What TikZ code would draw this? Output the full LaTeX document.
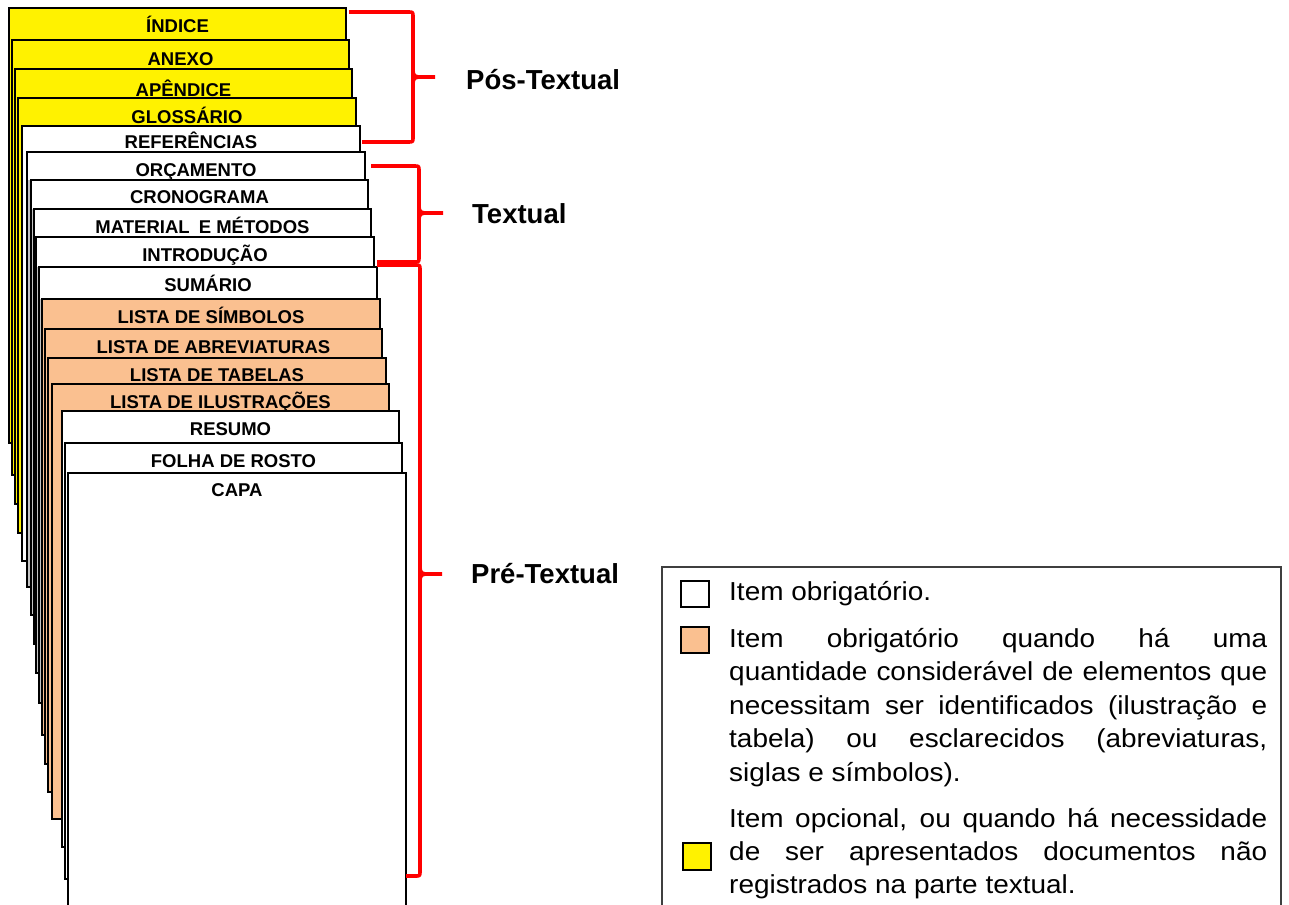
\documentclass[tikz,border=0pt]{standalone}
\usepackage{fontspec}
\setmainfont{Liberation Sans}
\newfontfamily\legendfont[FakeStretch=1.075]{Liberation Sans}
\definecolor{peach}{HTML}{FAC090}
\definecolor{sliver}{HTML}{C4C4C4}
\definecolor{legendframe}{HTML}{3F3F3F}
\tikzset{
  pageframe/.style={draw=black, line width=1.1pt},
  pagelabel/.style={font=\fontsize{18.5}{20}\selectfont\bfseries, inner sep=0pt, anchor=base},
  bracket/.style={draw=red, line width=3.6pt, line join=round},
  part/.style={font=\fontsize{27.5}{30}\selectfont\bfseries, inner sep=0pt, anchor=base west},
  keybox/.style={draw=black, line width=2.4pt},
  legendline/.style={font=\legendfont\fontsize{26}{30}\selectfont, inner sep=0pt, anchor=base west},
}
% curly bracket: top start x, top y, spine x, bottom y, bottom start x, tip y, tip x
\newcommand\partbrace[7]{%
  \draw[bracket] (#1,#2) -- ({#3-5},#2) .. controls (#3,#2) .. (#3,{#2+5})
    -- (#3,{#4-5}) .. controls (#3,#4) .. ({#3-5},#4) -- (#5,#4);
  \draw[bracket] (#3,{#6-7}) .. controls (#3,{#6-1}) and ({#3+2},#6) .. ({#3+8},#6) -- (#7,#6);
  \draw[bracket] (#3,{#6+7}) .. controls (#3,{#6+1}) and ({#3+2},#6) .. ({#3+8},#6);
}
\begin{document}
\begin{tikzpicture}[x=1pt,y=-1pt]
\useasboundingbox (0,0) rectangle (1289,904);
\clip (0,0) rectangle (1289,904);
\fill[white] (0,0) rectangle (1289,904);

% stacked sheets, from the back of the document to the cover
\foreach \n/\l/\t/\r/\b/\c/\bc/\s/\txt/\bl in {
  pindice/9/8/346/443/yellow/yellow/40/ÍNDICE/33,
  panexo/12/40/349/475/yellow/yellow/69/ANEXO/66,
  papendice/15/69/352/504/yellow/yellow/98/APÊNDICE/97,
  pglossario/18/98/356/533/yellow/yellow/126/GLOSSÁRIO/124,
  preferencias/22/126/360/561/white/white/152/REFERÊNCIAS/149,
  porcamento/27/152/365/587/white/sliver/180/ORÇAMENTO/176,
  pcronograma/31/180/368/615/white/sliver/209/CRONOGRAMA/204,
  pmaterial/34/209/371/644/white/sliver/237/MATERIAL\hspace{4pt} E MÉTODOS/233,
  pintroducao/36/237/374/673/white/sliver/267/INTRODUÇÃO/261,
  psumario/39/267/377/703/white/sliver/299/SUMÁRIO/291,
  psimbolos/42/299/380/735/peach/peach/329/LISTA DE SÍMBOLOS/323,
  pabreviaturas/45/329/382/764/peach/peach/358/LISTA DE ABREVIATURAS/353,
  ptabelas/48/358/386/792/peach/peach/384/LISTA DE TABELAS/381,
  pilustracoes/52/384/389/819/peach/peach/411/LISTA DE ILUSTRAÇÕES/408,
  presumo/62/411/399/847/white/white/443/RESUMO/435,
  pfolha/65/443/402/879/white/white/473/FOLHA DE ROSTO/467,
  pcapa/68/473/406/920/white/white/920/CAPA/496}{
  \fill[\bc] (\l,\t) rectangle (\r,\b);
  \fill[\c] (\l,\t) rectangle (\r,\s);
  \draw[pageframe] (\l,\t) rectangle (\r,\b);
  \node[pagelabel] (\n) at ({(\l+\r)/2},\bl) {\txt};
}

% part brackets and their titles
\partbrace{349}{12}{413}{142}{362}{77}{435}
\partbrace{371}{166}{419}{262}{377}{213}{443}
\partbrace{377}{265}{420}{876}{406}{574}{442}
\node[part] (pos) at (466,90) {Pós-Textual};
\node[part] (txt) at (472,223) {Textual};
\node[part] (pre) at (471,583) {Pré-Textual};

% key
\draw[draw=legendframe, line width=2pt] (662,567) rectangle (1281,920);
\draw[keybox, fill=white] (681,581) rectangle (709,607);
\draw[keybox, fill=peach] (681,627) rectangle (709,653);
\draw[keybox, fill=yellow] (683,843) rectangle (711,870);

\node[legendline] (k1) at (729,600) {Item obrigatório.};
\node[legendline] (k2a) at (729,647) {\makebox[538pt][s]{Item obrigatório quando há uma}};
\node[legendline] (k2b) at (729,680.5) {\makebox[538pt][s]{quantidade considerável de elementos que}};
\node[legendline] (k2c) at (729,714) {\makebox[538pt][s]{necessitam ser identificados (ilustração e}};
\node[legendline] (k2d) at (729,747) {\makebox[538pt][s]{tabela) ou esclarecidos (abreviaturas,}};
\node[legendline] (k2e) at (729,781) {siglas e símbolos).};
\node[legendline] (k3a) at (729,827) {\makebox[538pt][s]{Item opcional, ou quando há necessidade}};
\node[legendline] (k3b) at (729,860) {\makebox[538pt][s]{de ser apresentados documentos não}};
\node[legendline] (k3c) at (729,893) {registrados na parte textual.};
\end{tikzpicture}
\end{document}
